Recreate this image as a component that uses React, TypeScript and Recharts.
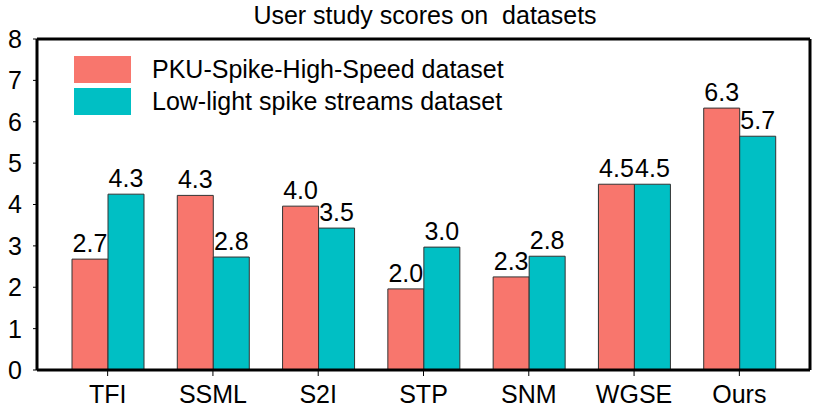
import React from "react";
import { BarChart, Bar, XAxis, YAxis, LabelList } from "recharts";

const categories = ["TFI", "SSML", "S2I", "STP", "SNM", "WGSE", "Ours"];
const pkuValues = [2.68, 4.22, 3.96, 1.96, 2.25, 4.49, 6.33];
const lowLightValues = [4.25, 2.73, 3.43, 2.97, 2.75, 4.49, 5.65];
const pkuLabels = ["2.7", "4.3", "4.0", "2.0", "2.3", "4.5", "6.3"];
const lowLightLabels = ["4.3", "2.8", "3.5", "3.0", "2.8", "4.5", "5.7"];
const yTicks = [0, 1, 2, 3, 4, 5, 6, 7, 8];
const seriesNames = ["PKU-Spike-High-Speed dataset", "Low-light spike streams dataset"];
const colors = ["#F8766D", "#00BFC4"];

const data = categories.map((name, i) => ({
  name,
  pku: pkuValues[i],
  low: lowLightValues[i],
  pkuLabel: pkuLabels[i],
  lowLabel: lowLightLabels[i],
}));

const FONT = "'Liberation Sans', Arial, Helvetica, sans-serif";

export default function App() {
  return (
    <div style={{ position: "absolute", left: 0, top: 0, width: 830, height: 411, background: "#fff", fontFamily: FONT }}>
      <div style={{ position: "absolute", left: 0, top: 1, width: 850, textAlign: "center", fontSize: 25, color: "#000", whiteSpace: "pre" }}>
        {"User study scores on  datasets"}
      </div>
      <BarChart
        width={830}
        height={411}
        data={data}
        margin={{ top: 38, right: 19, bottom: 0, left: 0 }}
        barCategoryGap={17}
        barGap={0}
        style={{ fontFamily: FONT }}
      >
        <XAxis
          dataKey="name"
          padding={{ left: 18, right: 18 }}
          tick={{ fill: "#000", fontSize: 25 }}
          tickSize={6}
          tickMargin={9}
          axisLine={{ stroke: "#000", strokeWidth: 3 }}
          tickLine={{ stroke: "#000" }}
          height={41}
        />
        <XAxis
          xAxisId="top"
          dataKey="name"
          orientation="top"
          tick={false}
          tickLine={false}
          height={1}
          axisLine={{ stroke: "#000", strokeWidth: 3 }}
        />
        <YAxis
          domain={[0, 8]}
          ticks={yTicks}
          interval={0}
          width={37}
          tick={{ fill: "#000", fontSize: 25 }}
          tickSize={4}
          tickMargin={11}
          axisLine={{ stroke: "#000", strokeWidth: 3 }}
          tickLine={{ stroke: "#000" }}
        />
        <YAxis
          yAxisId="right"
          orientation="right"
          domain={[0, 8]}
          tick={false}
          tickLine={false}
          width={1}
          axisLine={{ stroke: "#000", strokeWidth: 3 }}
        />
        <Bar dataKey="pku" name={seriesNames[0]} fill={colors[0]} stroke="#333" strokeWidth={1} isAnimationActive={false}>
          <LabelList dataKey="pkuLabel" position="top" offset={7} fill="#000" fontSize={25} />
        </Bar>
        <Bar dataKey="low" name={seriesNames[1]} fill={colors[1]} stroke="#333" strokeWidth={1} isAnimationActive={false}>
          <LabelList dataKey="lowLabel" position="top" offset={7} fill="#000" fontSize={25} />
        </Bar>
      </BarChart>
      <div style={{ position: "absolute", left: 74, top: 53, fontSize: 25, color: "#000", lineHeight: "32px" }}>
        {seriesNames.map((n, i) => (
          <div key={n} style={{ display: "flex", alignItems: "center", height: 32 }}>
            <div style={{ width: 57, height: 27, background: colors[i], marginRight: 21 }} />
            <span>{n}</span>
          </div>
        ))}
      </div>
    </div>
  );
}
